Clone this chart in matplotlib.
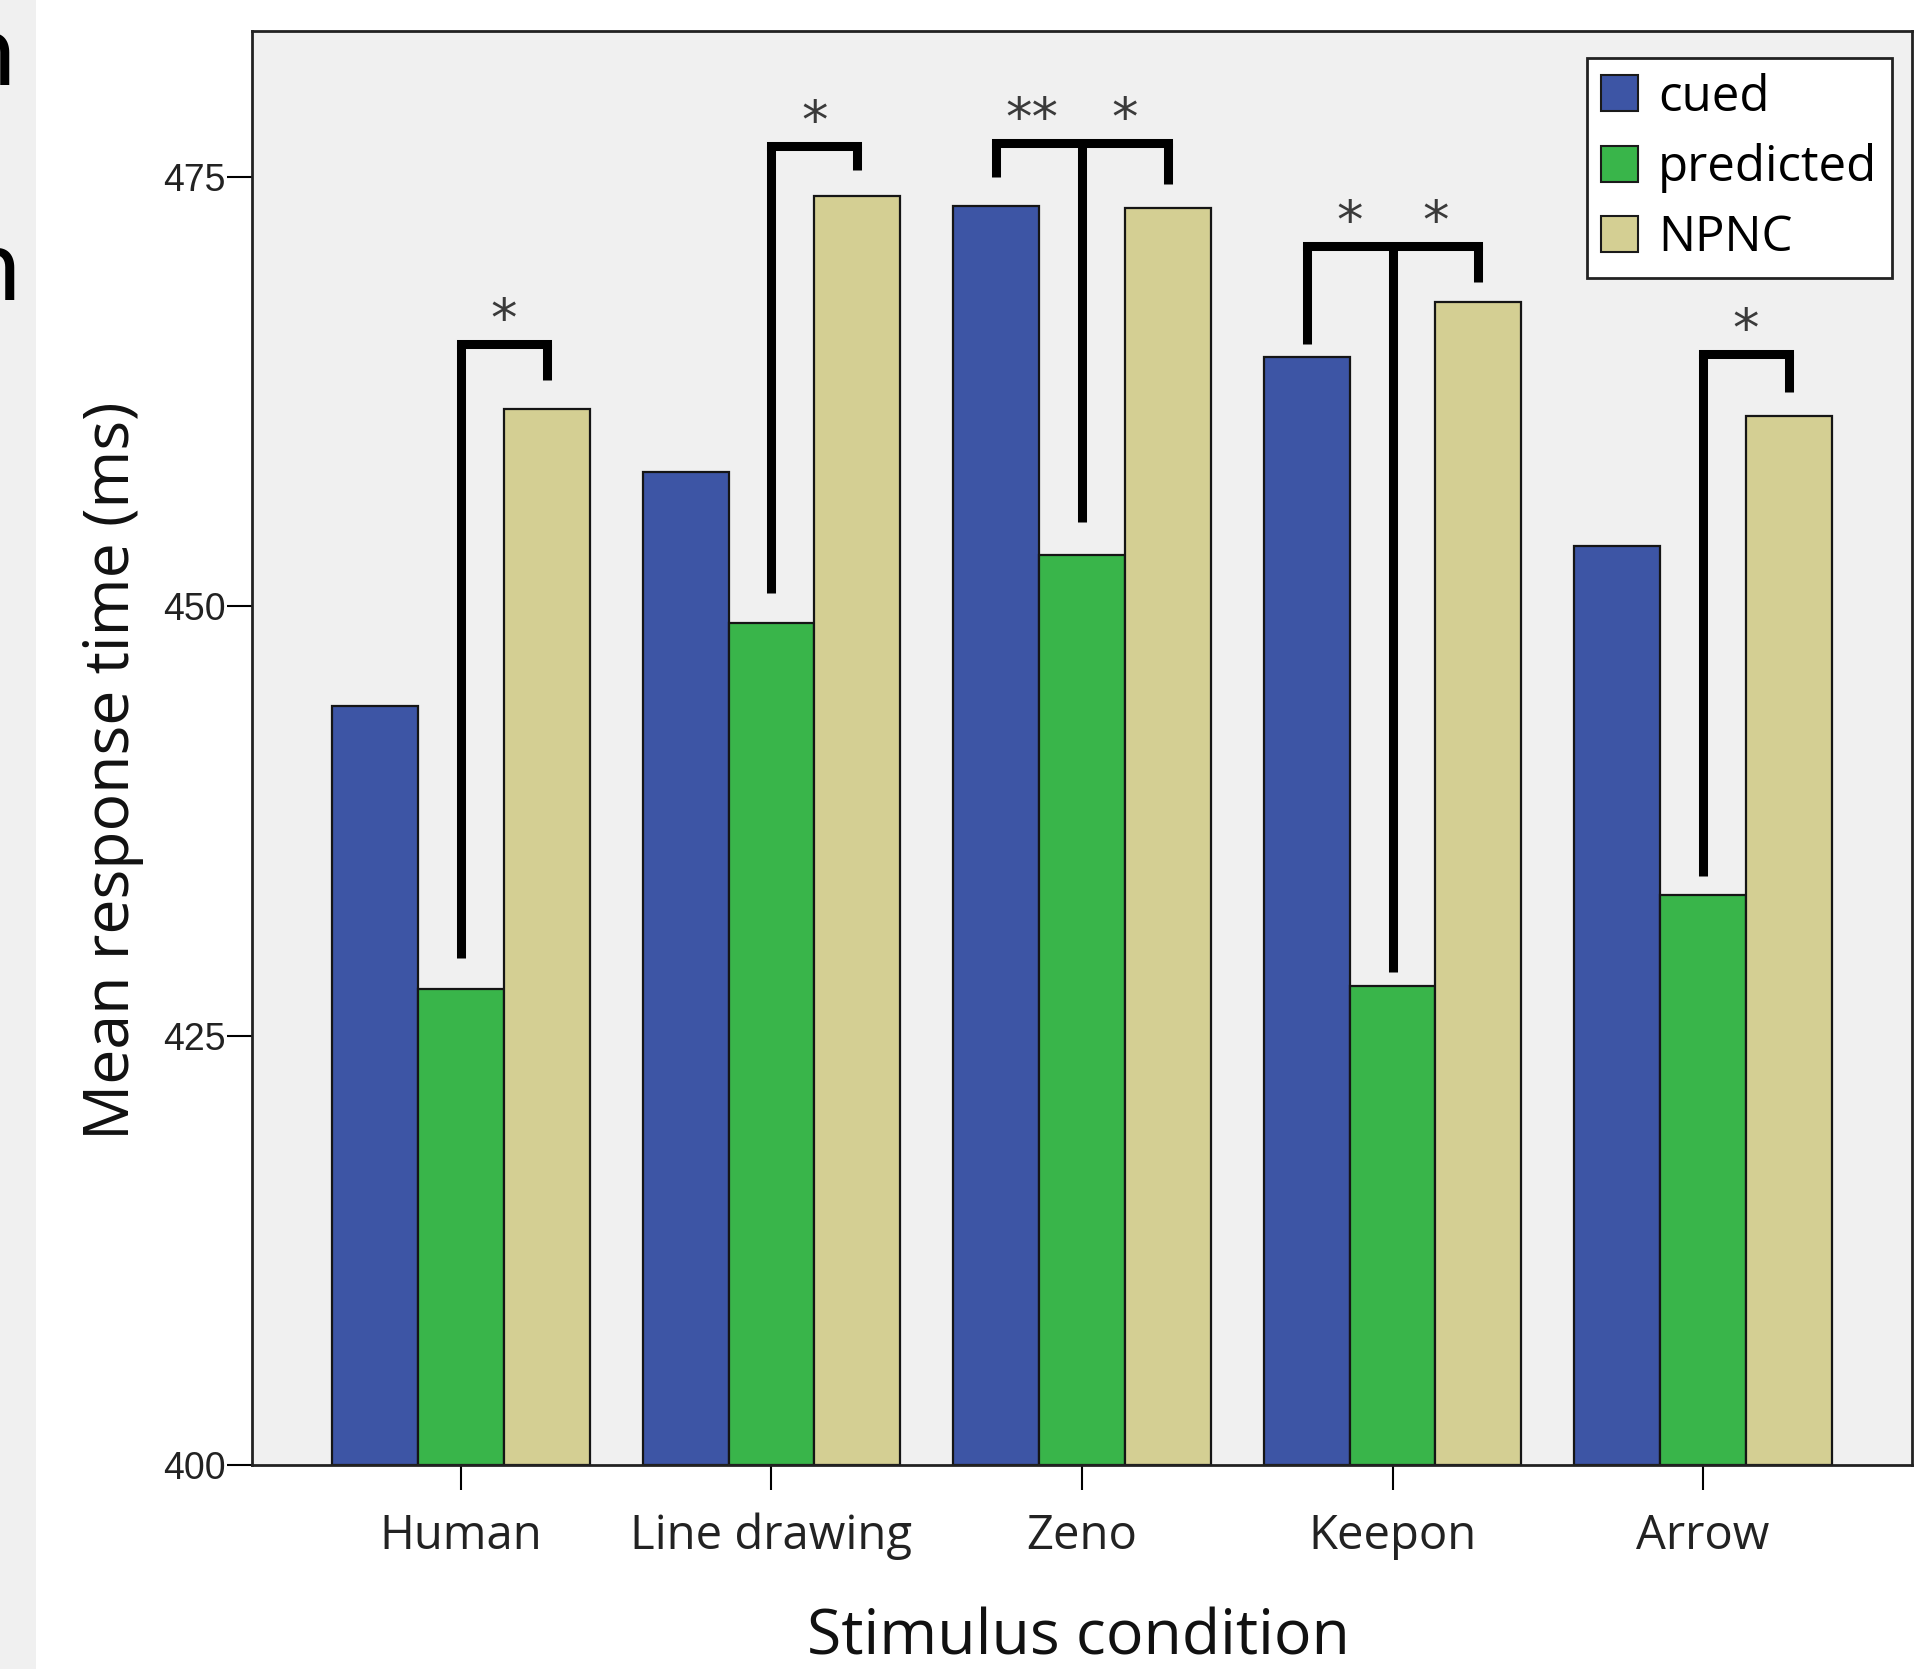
import matplotlib.pyplot as plt
import numpy as np
from matplotlib.patches import Rectangle, Patch

categories = ["Human", "Line drawing", "Zeno", "Keepon", "Arrow"]
series = ["cued", "predicted", "NPNC"]
cued = [444.2, 457.8, 473.3, 464.5, 453.5]
predicted = [427.7, 449.0, 453.0, 427.9, 433.2]
npnc = [461.5, 473.9, 473.2, 467.7, 461.1]
yticks = [400, 425, 450, 475]

# significance brackets: group, legs (bar index, bottom), top, stars (pos, text)
brackets = [
    (0, [(1, 429.5), (2, 463.2)], 465.3, [(1.5, "*")]),
    (1, [(1, 450.8), (2, 475.4)], 476.8, [(1.5, "*")]),
    (2, [(0, 475.0), (1, 454.9), (2, 474.6)], 477.0, [(0.42, "**"), (1.5, "*")]),
    (3, [(0, 465.3), (1, 428.7), (2, 468.9)], 471.0, [(0.5, "*"), (1.5, "*")]),
    (4, [(1, 434.3), (2, 462.5)], 464.7, [(1.5, "*")]),
]

colors = ["#3d55a5", "#39b54a", "#d4cf93"]
label_font = ["Open Sans", "DejaVu Sans"]

fig = plt.figure(figsize=(19.27, 16.69), dpi=100)
fig.patches.append(Rectangle((0, 0), 36 / 1927, 1, transform=fig.transFigure,
                             facecolor="#f0f0f0", edgecolor="none", zorder=0))
fig.text(16 / 1927, 1 - 85 / 1669, "n", ha="right", va="baseline",
         fontsize=72, family=["Lato"], color="black")
fig.text(21 / 1927, 1 - 300 / 1669, "n", ha="right", va="baseline",
         fontsize=72, family=["Lato"], color="black")

ax = fig.add_axes([252 / 1927, 204 / 1669, 1660 / 1927, 1434 / 1669])
ax.set_facecolor("#f0f0f0")

x = np.arange(len(categories))
w = 0.276
for i, (vals, c, name) in enumerate(zip([cued, predicted, npnc], colors, series)):
    ax.bar(x + (i - 1) * w, np.array(vals) - 400, w, bottom=400, color=c,
           edgecolor="#151515", linewidth=1.6, label=name, zorder=2)

for g, legs, top, stars in brackets:
    xs = [g + (b - 1) * w for b, _ in legs]
    ax.plot([min(xs), max(xs)], [top, top], color="black", lw=6.5,
            solid_capstyle="projecting", zorder=3)
    for (b, bottom), xx in zip(legs, xs):
        ax.plot([xx, xx], [bottom, top], color="black", lw=6.5,
                solid_capstyle="butt", zorder=3)
    for pos, s in stars:
        ax.text(g + (pos - 1) * w, top + 0.45, s, ha="center", va="baseline",
                fontsize=38, color="#3a3a3a", family="DejaVu Sans", zorder=4)

ax.set_xlim(-0.673, 4.673)
ax.set_ylim(400, 483.5)
ax.set_xticks(x)
ax.set_xticklabels(categories, family=label_font, fontsize=34, color="#222222")
ax.set_yticks(yticks)
ax.set_yticklabels([str(t) for t in yticks], family="Liberation Sans",
                   fontsize=27, color="#222222")
ax.tick_params(axis="y", length=18, width=1.5, pad=1)
ax.tick_params(axis="x", length=18, width=1.5, pad=16)
for sp in ax.spines.values():
    sp.set_linewidth(2)
    sp.set_color("#222222")

ax.set_ylabel("Mean response time (ms)", family=label_font, fontsize=45,
              color="#111111")
ax.yaxis.label.set_va("center")
ax.yaxis.set_label_coords(-0.084, 0.484)
ax.set_xlabel("Stimulus condition", family=label_font, fontsize=45,
              color="#111111")
ax.xaxis.label.set_va("center")
ax.xaxis.set_label_coords(0.4976, -0.1205)

handles = [Patch(facecolor=c, edgecolor="#1a1a1a", linewidth=1.5) for c in colors]
leg = ax.legend(handles, series, loc="upper right", bbox_to_anchor=(0.988, 0.981),
                borderaxespad=0, fancybox=False, framealpha=1, edgecolor="#222222",
                prop={"family": label_font, "size": 35.5}, handlelength=0.75,
                handleheight=0.75, handletextpad=0.4, labelspacing=0.42,
                borderpad=0.3)
leg.get_frame().set_linewidth(2)

fig.savefig("out.png", dpi=100)
